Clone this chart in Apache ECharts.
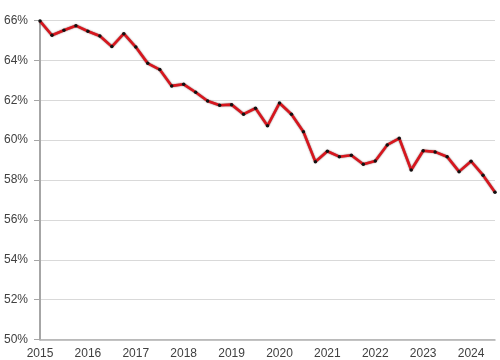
<!DOCTYPE html>
<html>
<head>
<meta charset="utf-8">
<script src="https://cdn.jsdelivr.net/npm/echarts@6/dist/echarts.min.js"></script>
<style>html,body{margin:0;padding:0;background:#fff}#c{width:500px;height:360px}</style>
</head>
<body>
<div id="c"></div>
<script>
var quarters = ['2015Q1','2015Q2','2015Q3','2015Q4','2016Q1','2016Q2','2016Q3','2016Q4','2017Q1','2017Q2','2017Q3','2017Q4','2018Q1','2018Q2','2018Q3','2018Q4','2019Q1','2019Q2','2019Q3','2019Q4','2020Q1','2020Q2','2020Q3','2020Q4','2021Q1','2021Q2','2021Q3','2021Q4','2022Q1','2022Q2','2022Q3','2022Q4','2023Q1','2023Q2','2023Q3','2023Q4','2024Q1','2024Q2','2024Q3'];
var values = [65.97,65.26,65.51,65.74,65.46,65.22,64.69,65.34,64.67,63.85,63.54,62.72,62.80,62.40,61.96,61.75,61.78,61.30,61.60,60.72,61.86,61.30,60.42,58.92,59.44,59.17,59.24,58.79,58.95,59.76,60.09,58.50,59.47,59.41,59.17,58.42,58.94,58.24,57.38];
var yTicks = [50,52,54,56,58,60,62,64,66];

var chart = echarts.init(document.getElementById('c'));
chart.setOption({
  animation: false,
  grid: {left: 40, right: 5, top: 20.5, bottom: 20.5, containLabel: false},
  xAxis: {
    type: 'category',
    data: quarters,
    boundaryGap: false,
    axisLine: {lineStyle: {color: '#b0b0b0', width: 1.5}},
    axisTick: {show: false},
    axisLabel: {
      interval: 3,
      margin: 8,
      color: '#404040',
      fontFamily: 'Liberation Sans',
      fontSize: 12,
      formatter: function (v) { return v.slice(0, 4); }
    },
    splitLine: {show: false}
  },
  yAxis: {
    type: 'value',
    min: yTicks[0],
    max: yTicks[yTicks.length - 1],
    interval: 2,
    axisLine: {show: true, lineStyle: {color: '#a6a6a6', width: 2}},
    axisTick: {show: true, length: 6, lineStyle: {color: '#a6a6a6'}},
    axisLabel: {
      margin: 12,
      color: '#404040',
      fontFamily: 'Liberation Sans',
      fontSize: 12,
      formatter: function (v) { return v + '%'; }
    },
    splitLine: {lineStyle: {color: '#d9d9d9', width: 1}}
  },
  series: [{
    type: 'line',
    data: values,
    symbol: 'circle',
    symbolSize: 3.5,
    itemStyle: {color: '#111'},
    lineStyle: {color: '#d8161e', width: 2.6, shadowColor: 'rgba(60,0,0,0.7)', shadowBlur: 1.5},
    z: 3
  }]
});
</script>
</body>
</html>
